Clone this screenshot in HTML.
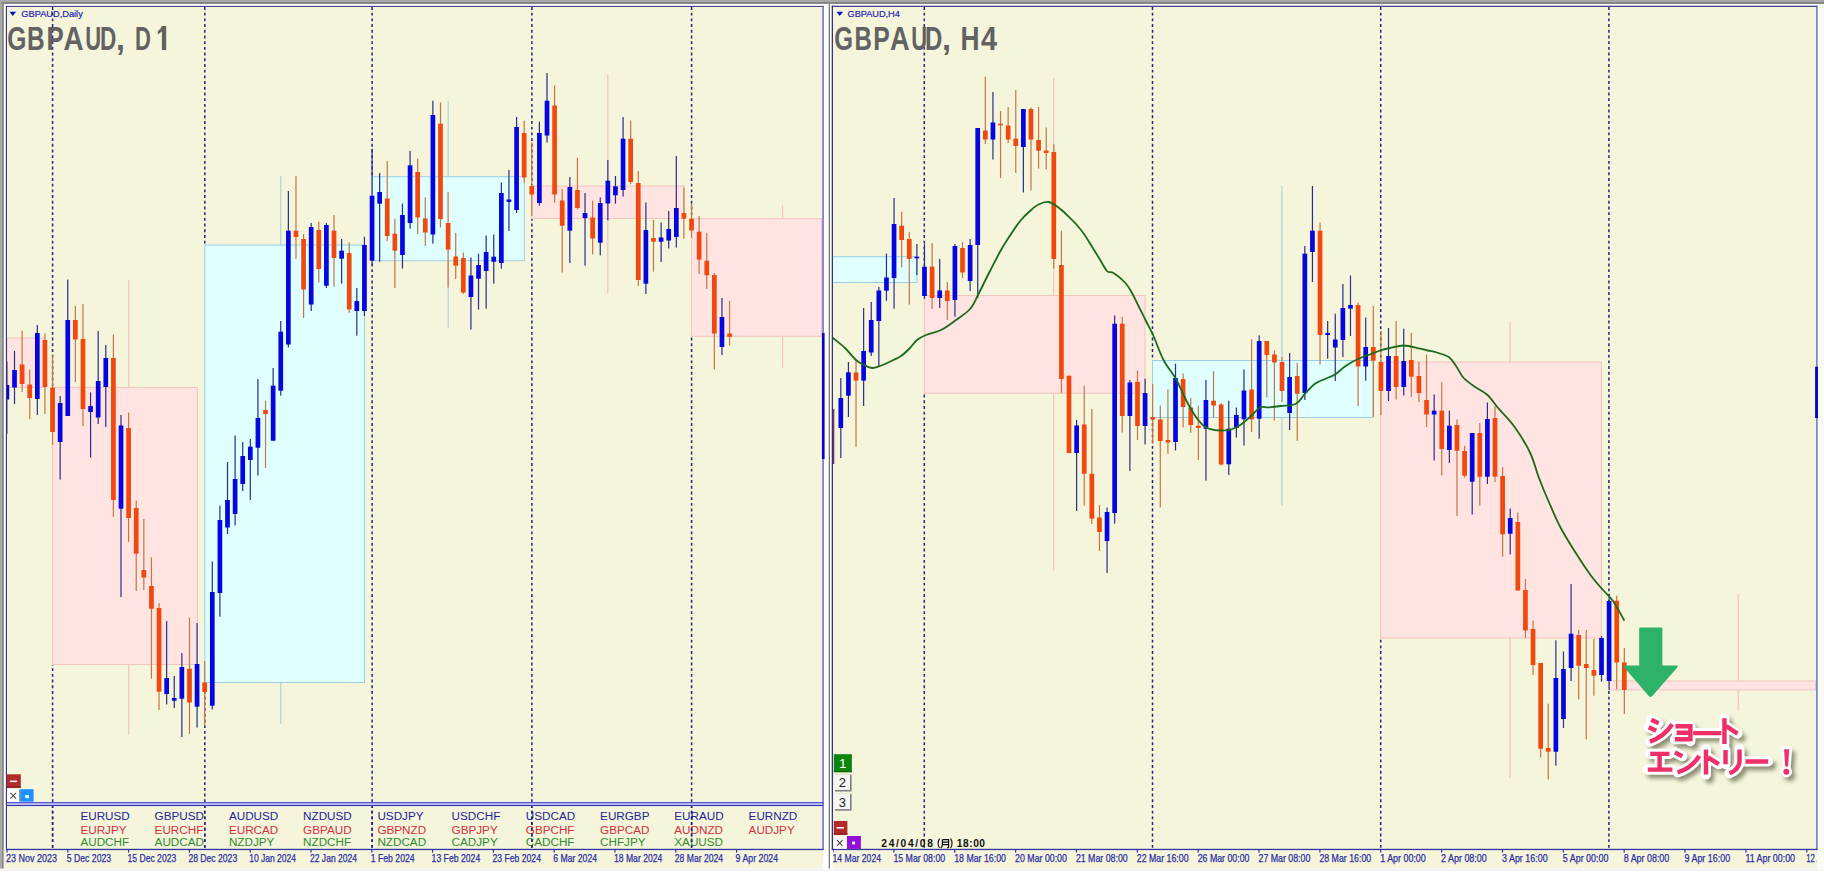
<!DOCTYPE html><html><head><meta charset="utf-8"><title>GBPAUD</title><style>html,body{margin:0;padding:0;background:#fff;}body{width:1824px;height:873px;overflow:hidden;font-family:"Liberation Sans",sans-serif;}svg{display:block;}text{font-family:"Liberation Sans",sans-serif;}.mono{font-family:"Liberation Mono",monospace;}</style></head><body>
<svg width="1824" height="873" viewBox="0 0 1824 873">
<defs><filter id="sh" x="-20%" y="-20%" width="140%" height="150%"><feGaussianBlur stdDeviation="24"/></filter><clipPath id="cl"><rect x="7" y="7" width="816" height="842"/></clipPath><clipPath id="cr"><rect x="833" y="7" width="984" height="862"/></clipPath></defs>
<rect x="0" y="0" width="1824" height="873" fill="#FBFBFF"/>
<rect x="0" y="0" width="1824" height="2" fill="#A8A8A8"/><rect x="0" y="2" width="1824" height="2" fill="#868686"/>
<rect x="0" y="0" width="1.5" height="871" fill="#A8A8A8"/><rect x="1.5" y="2" width="2.3" height="869" fill="#868686"/>
<rect x="6.5" y="6.5" width="816.5" height="862" fill="#F5F5DC"/>
<rect x="832.5" y="6.5" width="984.5" height="862" fill="#F5F5DC"/>
<rect x="828.8" y="3" width="1.5" height="868" fill="#787870"/><rect x="828.3" y="3" width="0.5" height="868" fill="#D0D0CC"/><rect x="830.3" y="3" width="0.5" height="868" fill="#D0D0CC"/>
<rect x="0" y="868.5" width="1824" height="4.5" fill="#F4F4F4"/><rect x="0" y="871" width="1824" height="2" fill="#FFFFFF"/>
<g clip-path="url(#cl)">
<line x1="52.6" x2="52.6" y1="7" y2="386.9" stroke="#26227E" stroke-width="1.5" stroke-dasharray="2.9 2.8" stroke-dashoffset="0.0"/><line x1="52.6" x2="52.6" y1="665.0" y2="848" stroke="#26227E" stroke-width="1.5" stroke-dasharray="2.9 2.8" stroke-dashoffset="2.5"/>
<line x1="204.8" x2="204.8" y1="7" y2="244.5" stroke="#26227E" stroke-width="1.5" stroke-dasharray="2.9 2.8" stroke-dashoffset="0.0"/><line x1="204.8" x2="204.8" y1="683.0" y2="848" stroke="#26227E" stroke-width="1.5" stroke-dasharray="2.9 2.8" stroke-dashoffset="3.4"/>
<line x1="372.1" x2="372.1" y1="7" y2="176.2" stroke="#26227E" stroke-width="1.5" stroke-dasharray="2.9 2.8" stroke-dashoffset="0.0"/><line x1="372.1" x2="372.1" y1="261.2" y2="848" stroke="#26227E" stroke-width="1.5" stroke-dasharray="2.9 2.8" stroke-dashoffset="3.4"/>
<line x1="531.9" x2="531.9" y1="7" y2="185.5" stroke="#26227E" stroke-width="1.5" stroke-dasharray="2.9 2.8" stroke-dashoffset="0.0"/><line x1="531.9" x2="531.9" y1="219.0" y2="848" stroke="#26227E" stroke-width="1.5" stroke-dasharray="2.9 2.8" stroke-dashoffset="1.1"/>
<line x1="691.6" x2="691.6" y1="7" y2="218.2" stroke="#26227E" stroke-width="1.5" stroke-dasharray="2.9 2.8" stroke-dashoffset="0.0"/><line x1="691.6" x2="691.6" y1="336.8" y2="848" stroke="#26227E" stroke-width="1.5" stroke-dasharray="2.9 2.8" stroke-dashoffset="4.9"/>
<rect x="7" y="338" width="38.1" height="49.4" fill="#FFE4E1" stroke="#F2C4BC" stroke-width="1"/>
<line x1="128.7" x2="128.7" y1="280" y2="735" stroke="#F2C4BC" stroke-width="1.2"/><rect x="52.6" y="387.4" width="144.7" height="277.1" fill="#FFE4E1" stroke="#F2C4BC" stroke-width="1"/>
<line x1="280.7" x2="280.7" y1="176" y2="724" stroke="#B2D4DA" stroke-width="1.2"/><rect x="204.8" y="245" width="159.7" height="437.5" fill="#E0FFFF" stroke="#9CCFE6" stroke-width="1"/>
<line x1="448.2" x2="448.2" y1="100.7" y2="328" stroke="#B2D4DA" stroke-width="1.2"/><rect x="372.1" y="176.7" width="152.2" height="84.0" fill="#E0FFFF" stroke="#9CCFE6" stroke-width="1"/>
<line x1="607.8" x2="607.8" y1="74" y2="293.7" stroke="#F2C4BC" stroke-width="1.2"/><rect x="531.9" y="186" width="152.1" height="32.5" fill="#FFE4E1" stroke="#F2C4BC" stroke-width="1"/>
<line x1="782.6" x2="782.6" y1="205" y2="367.7" stroke="#F2C4BC" stroke-width="1.2"/><rect x="691.6" y="218.7" width="129.9" height="117.6" fill="#FFE4E1" stroke="#F2C4BC" stroke-width="1"/>
<rect x="6.30" y="361.5" width="1.2" height="72.5" fill="#2C2C8C"/><rect x="4.55" y="385.0" width="4.7" height="14.5" fill="#0505E0"/><rect x="13.91" y="351.0" width="1.2" height="53.0" fill="#2C2C8C"/><rect x="12.16" y="370.0" width="4.7" height="17.5" fill="#0505E0"/><rect x="21.51" y="330.5" width="1.2" height="61.5" fill="#C47646"/><rect x="19.76" y="364.5" width="4.7" height="19.5" fill="#F0480E"/><rect x="29.12" y="369.5" width="1.2" height="49.5" fill="#C47646"/><rect x="27.37" y="384.5" width="4.7" height="13.5" fill="#F0480E"/><rect x="36.73" y="325.0" width="1.2" height="90.0" fill="#2C2C8C"/><rect x="34.98" y="333.0" width="4.7" height="66.0" fill="#0505E0"/><rect x="44.34" y="333.5" width="1.2" height="80.5" fill="#C47646"/><rect x="42.59" y="340.0" width="4.7" height="47.0" fill="#F0480E"/><rect x="51.94" y="354.5" width="1.2" height="90.5" fill="#C47646"/><rect x="50.19" y="387.5" width="4.7" height="44.5" fill="#F0480E"/><rect x="59.55" y="396.0" width="1.2" height="83.5" fill="#2C2C8C"/><rect x="57.80" y="403.0" width="4.7" height="39.0" fill="#0505E0"/><rect x="67.16" y="279.5" width="1.2" height="136.5" fill="#2C2C8C"/><rect x="65.41" y="320.0" width="4.7" height="96.0" fill="#0505E0"/><rect x="74.76" y="306.0" width="1.2" height="76.0" fill="#C47646"/><rect x="73.01" y="320.0" width="4.7" height="19.5" fill="#F0480E"/><rect x="82.37" y="304.0" width="1.2" height="122.0" fill="#C47646"/><rect x="80.62" y="339.0" width="4.7" height="70.0" fill="#F0480E"/><rect x="89.98" y="392.5" width="1.2" height="65.0" fill="#2C2C8C"/><rect x="88.23" y="406.0" width="4.7" height="6.0" fill="#0505E0"/><rect x="97.58" y="331.0" width="1.2" height="93.0" fill="#2C2C8C"/><rect x="95.83" y="381.0" width="4.7" height="36.5" fill="#0505E0"/><rect x="105.19" y="345.0" width="1.2" height="82.0" fill="#2C2C8C"/><rect x="103.44" y="358.0" width="4.7" height="29.0" fill="#0505E0"/><rect x="112.80" y="334.5" width="1.2" height="182.5" fill="#C47646"/><rect x="111.05" y="358.0" width="4.7" height="142.0" fill="#F0480E"/><rect x="120.41" y="415.0" width="1.2" height="182.0" fill="#2C2C8C"/><rect x="118.66" y="425.5" width="4.7" height="83.2" fill="#0505E0"/><rect x="128.01" y="412.5" width="1.2" height="129.2" fill="#C47646"/><rect x="126.26" y="428.0" width="4.7" height="90.0" fill="#F0480E"/><rect x="135.62" y="500.5" width="1.2" height="90.5" fill="#C47646"/><rect x="133.87" y="508.0" width="4.7" height="45.7" fill="#F0480E"/><rect x="143.23" y="519.0" width="1.2" height="71.0" fill="#C47646"/><rect x="141.48" y="570.0" width="4.7" height="7.5" fill="#F0480E"/><rect x="150.83" y="557.5" width="1.2" height="121.2" fill="#C47646"/><rect x="149.08" y="586.0" width="4.7" height="22.7" fill="#F0480E"/><rect x="158.44" y="603.0" width="1.2" height="107.0" fill="#C47646"/><rect x="156.69" y="608.0" width="4.7" height="83.7" fill="#F0480E"/><rect x="166.05" y="621.0" width="1.2" height="83.5" fill="#2C2C8C"/><rect x="164.30" y="678.0" width="4.7" height="16.0" fill="#0505E0"/><rect x="173.65" y="676.0" width="1.2" height="32.0" fill="#2C2C8C"/><rect x="171.90" y="698.0" width="4.7" height="2.7" fill="#0505E0"/><rect x="181.26" y="653.0" width="1.2" height="84.0" fill="#2C2C8C"/><rect x="179.51" y="667.0" width="4.7" height="31.7" fill="#0505E0"/><rect x="188.87" y="617.5" width="1.2" height="116.5" fill="#C47646"/><rect x="187.12" y="668.7" width="4.7" height="33.8" fill="#F0480E"/><rect x="196.48" y="623.0" width="1.2" height="104.5" fill="#2C2C8C"/><rect x="194.73" y="664.0" width="4.7" height="42.7" fill="#0505E0"/><rect x="204.08" y="661.0" width="1.2" height="65.0" fill="#C47646"/><rect x="202.33" y="682.5" width="4.7" height="9.5" fill="#F0480E"/><rect x="211.69" y="561.5" width="1.2" height="148.0" fill="#2C2C8C"/><rect x="209.94" y="592.0" width="4.7" height="113.7" fill="#0505E0"/><rect x="219.30" y="505.7" width="1.2" height="111.0" fill="#2C2C8C"/><rect x="217.55" y="520.0" width="4.7" height="73.0" fill="#0505E0"/><rect x="226.90" y="462.0" width="1.2" height="72.0" fill="#2C2C8C"/><rect x="225.15" y="500.0" width="4.7" height="27.5" fill="#0505E0"/><rect x="234.51" y="435.5" width="1.2" height="90.0" fill="#2C2C8C"/><rect x="232.76" y="479.0" width="4.7" height="35.0" fill="#0505E0"/><rect x="242.12" y="442.0" width="1.2" height="49.0" fill="#2C2C8C"/><rect x="240.37" y="456.0" width="4.7" height="28.0" fill="#0505E0"/><rect x="249.72" y="439.0" width="1.2" height="61.0" fill="#2C2C8C"/><rect x="247.97" y="446.7" width="4.7" height="13.3" fill="#0505E0"/><rect x="257.33" y="379.0" width="1.2" height="96.5" fill="#2C2C8C"/><rect x="255.58" y="418.0" width="4.7" height="29.7" fill="#0505E0"/><rect x="264.94" y="400.7" width="1.2" height="67.3" fill="#C47646"/><rect x="263.19" y="410.0" width="4.7" height="4.0" fill="#F0480E"/><rect x="272.54" y="368.0" width="1.2" height="72.7" fill="#2C2C8C"/><rect x="270.79" y="385.7" width="4.7" height="55.0" fill="#0505E0"/><rect x="280.15" y="321.0" width="1.2" height="74.7" fill="#2C2C8C"/><rect x="278.40" y="331.7" width="4.7" height="59.0" fill="#0505E0"/><rect x="287.76" y="191.0" width="1.2" height="156.5" fill="#2C2C8C"/><rect x="286.01" y="230.7" width="4.7" height="113.8" fill="#0505E0"/><rect x="295.37" y="176.0" width="1.2" height="83.0" fill="#C47646"/><rect x="293.62" y="230.7" width="4.7" height="6.3" fill="#F0480E"/><rect x="302.97" y="234.0" width="1.2" height="84.0" fill="#C47646"/><rect x="301.22" y="239.0" width="4.7" height="50.5" fill="#F0480E"/><rect x="310.58" y="223.0" width="1.2" height="88.0" fill="#2C2C8C"/><rect x="308.83" y="227.0" width="4.7" height="77.5" fill="#0505E0"/><rect x="318.19" y="221.7" width="1.2" height="60.8" fill="#C47646"/><rect x="316.44" y="230.0" width="4.7" height="39.0" fill="#F0480E"/><rect x="325.79" y="223.0" width="1.2" height="65.0" fill="#2C2C8C"/><rect x="324.04" y="225.0" width="4.7" height="60.7" fill="#0505E0"/><rect x="333.40" y="215.0" width="1.2" height="71.7" fill="#C47646"/><rect x="331.65" y="230.7" width="4.7" height="27.3" fill="#F0480E"/><rect x="341.01" y="239.0" width="1.2" height="44.7" fill="#2C2C8C"/><rect x="339.26" y="250.7" width="4.7" height="8.0" fill="#0505E0"/><rect x="348.61" y="242.5" width="1.2" height="70.5" fill="#C47646"/><rect x="346.86" y="253.0" width="4.7" height="56.3" fill="#F0480E"/><rect x="356.22" y="288.0" width="1.2" height="47.7" fill="#2C2C8C"/><rect x="354.47" y="301.0" width="4.7" height="10.0" fill="#0505E0"/><rect x="363.83" y="236.7" width="1.2" height="79.3" fill="#2C2C8C"/><rect x="362.08" y="245.0" width="4.7" height="66.0" fill="#0505E0"/><rect x="371.44" y="148.7" width="1.2" height="116.3" fill="#2C2C8C"/><rect x="369.69" y="195.7" width="4.7" height="65.0" fill="#0505E0"/><rect x="379.04" y="173.0" width="1.2" height="88.7" fill="#2C2C8C"/><rect x="377.29" y="192.0" width="4.7" height="11.7" fill="#0505E0"/><rect x="386.65" y="161.0" width="1.2" height="80.0" fill="#C47646"/><rect x="384.90" y="198.5" width="4.7" height="37.5" fill="#F0480E"/><rect x="394.26" y="218.7" width="1.2" height="69.3" fill="#C47646"/><rect x="392.51" y="233.7" width="4.7" height="17.0" fill="#F0480E"/><rect x="401.86" y="203.5" width="1.2" height="65.0" fill="#2C2C8C"/><rect x="400.11" y="215.0" width="4.7" height="40.0" fill="#0505E0"/><rect x="409.47" y="151.0" width="1.2" height="77.7" fill="#2C2C8C"/><rect x="407.72" y="165.3" width="4.7" height="57.7" fill="#0505E0"/><rect x="417.08" y="158.7" width="1.2" height="75.3" fill="#C47646"/><rect x="415.33" y="172.0" width="4.7" height="45.5" fill="#F0480E"/><rect x="424.68" y="197.5" width="1.2" height="48.5" fill="#C47646"/><rect x="422.93" y="218.5" width="4.7" height="14.0" fill="#F0480E"/><rect x="432.29" y="100.7" width="1.2" height="143.0" fill="#2C2C8C"/><rect x="430.54" y="115.0" width="4.7" height="119.5" fill="#0505E0"/><rect x="439.90" y="102.5" width="1.2" height="125.0" fill="#C47646"/><rect x="438.15" y="123.7" width="4.7" height="95.3" fill="#F0480E"/><rect x="447.51" y="192.0" width="1.2" height="95.5" fill="#C47646"/><rect x="445.76" y="223.0" width="4.7" height="26.7" fill="#F0480E"/><rect x="455.11" y="233.0" width="1.2" height="46.0" fill="#C47646"/><rect x="453.36" y="256.5" width="4.7" height="9.2" fill="#F0480E"/><rect x="462.72" y="252.5" width="1.2" height="41.5" fill="#C47646"/><rect x="460.97" y="258.0" width="4.7" height="34.5" fill="#F0480E"/><rect x="470.33" y="257.5" width="1.2" height="72.0" fill="#2C2C8C"/><rect x="468.58" y="275.5" width="4.7" height="21.5" fill="#0505E0"/><rect x="477.93" y="253.7" width="1.2" height="55.8" fill="#2C2C8C"/><rect x="476.18" y="265.0" width="4.7" height="13.7" fill="#0505E0"/><rect x="485.54" y="235.5" width="1.2" height="73.2" fill="#2C2C8C"/><rect x="483.79" y="252.0" width="4.7" height="19.0" fill="#0505E0"/><rect x="493.15" y="234.5" width="1.2" height="49.2" fill="#2C2C8C"/><rect x="491.40" y="256.7" width="4.7" height="5.0" fill="#0505E0"/><rect x="500.75" y="182.5" width="1.2" height="86.2" fill="#2C2C8C"/><rect x="499.00" y="193.0" width="4.7" height="70.0" fill="#0505E0"/><rect x="508.36" y="170.0" width="1.2" height="61.0" fill="#2C2C8C"/><rect x="506.61" y="199.5" width="4.7" height="2.5" fill="#0505E0"/><rect x="515.97" y="117.0" width="1.2" height="96.0" fill="#2C2C8C"/><rect x="514.22" y="127.0" width="4.7" height="83.0" fill="#0505E0"/><rect x="523.58" y="120.7" width="1.2" height="61.8" fill="#C47646"/><rect x="521.83" y="133.0" width="4.7" height="44.5" fill="#F0480E"/><rect x="531.18" y="142.5" width="1.2" height="73.5" fill="#C47646"/><rect x="529.43" y="186.0" width="4.7" height="8.5" fill="#F0480E"/><rect x="538.79" y="121.7" width="1.2" height="84.0" fill="#2C2C8C"/><rect x="537.04" y="133.0" width="4.7" height="70.0" fill="#0505E0"/><rect x="546.40" y="73.0" width="1.2" height="69.5" fill="#2C2C8C"/><rect x="544.65" y="100.7" width="4.7" height="34.8" fill="#0505E0"/><rect x="554.00" y="85.5" width="1.2" height="117.0" fill="#C47646"/><rect x="552.25" y="105.5" width="4.7" height="89.0" fill="#F0480E"/><rect x="561.61" y="189.0" width="1.2" height="83.5" fill="#C47646"/><rect x="559.86" y="200.5" width="4.7" height="25.2" fill="#F0480E"/><rect x="569.22" y="177.0" width="1.2" height="86.0" fill="#2C2C8C"/><rect x="567.47" y="187.0" width="4.7" height="43.7" fill="#0505E0"/><rect x="576.82" y="157.7" width="1.2" height="51.8" fill="#C47646"/><rect x="575.07" y="190.0" width="4.7" height="18.0" fill="#F0480E"/><rect x="584.43" y="193.0" width="1.2" height="72.7" fill="#2C2C8C"/><rect x="582.68" y="213.0" width="4.7" height="5.0" fill="#0505E0"/><rect x="592.04" y="200.7" width="1.2" height="53.6" fill="#C47646"/><rect x="590.29" y="217.5" width="4.7" height="21.0" fill="#F0480E"/><rect x="599.65" y="197.5" width="1.2" height="57.8" fill="#2C2C8C"/><rect x="597.90" y="203.0" width="4.7" height="39.7" fill="#0505E0"/><rect x="607.25" y="160.0" width="1.2" height="60.3" fill="#2C2C8C"/><rect x="605.50" y="180.7" width="4.7" height="22.8" fill="#0505E0"/><rect x="614.86" y="176.0" width="1.2" height="27.7" fill="#2C2C8C"/><rect x="613.11" y="186.3" width="4.7" height="9.0" fill="#0505E0"/><rect x="622.47" y="117.0" width="1.2" height="79.5" fill="#2C2C8C"/><rect x="620.72" y="138.7" width="4.7" height="51.3" fill="#0505E0"/><rect x="630.07" y="120.5" width="1.2" height="63.8" fill="#C47646"/><rect x="628.32" y="138.7" width="4.7" height="43.3" fill="#F0480E"/><rect x="637.68" y="171.0" width="1.2" height="115.0" fill="#C47646"/><rect x="635.93" y="183.0" width="4.7" height="97.0" fill="#F0480E"/><rect x="645.29" y="202.5" width="1.2" height="91.5" fill="#2C2C8C"/><rect x="643.54" y="230.0" width="4.7" height="53.7" fill="#0505E0"/><rect x="652.89" y="220.0" width="1.2" height="51.7" fill="#C47646"/><rect x="651.14" y="238.0" width="4.7" height="3.7" fill="#F0480E"/><rect x="660.50" y="222.5" width="1.2" height="39.5" fill="#2C2C8C"/><rect x="658.75" y="237.5" width="4.7" height="4.2" fill="#0505E0"/><rect x="668.11" y="211.0" width="1.2" height="37.5" fill="#2C2C8C"/><rect x="666.36" y="229.0" width="4.7" height="11.5" fill="#0505E0"/><rect x="675.72" y="156.0" width="1.2" height="91.5" fill="#2C2C8C"/><rect x="673.97" y="208.0" width="4.7" height="29.0" fill="#0505E0"/><rect x="683.32" y="187.5" width="1.2" height="51.2" fill="#C47646"/><rect x="681.57" y="213.0" width="4.7" height="5.7" fill="#F0480E"/><rect x="690.93" y="204.0" width="1.2" height="34.0" fill="#C47646"/><rect x="689.18" y="218.7" width="4.7" height="11.8" fill="#F0480E"/><rect x="698.54" y="216.0" width="1.2" height="58.0" fill="#C47646"/><rect x="696.79" y="231.7" width="4.7" height="27.9" fill="#F0480E"/><rect x="706.14" y="233.0" width="1.2" height="56.0" fill="#C47646"/><rect x="704.39" y="260.7" width="4.7" height="14.5" fill="#F0480E"/><rect x="713.75" y="273.0" width="1.2" height="96.4" fill="#C47646"/><rect x="712.00" y="275.0" width="4.7" height="58.5" fill="#F0480E"/><rect x="721.36" y="298.0" width="1.2" height="57.0" fill="#2C2C8C"/><rect x="719.61" y="317.0" width="4.7" height="30.0" fill="#0505E0"/><rect x="728.96" y="301.0" width="1.2" height="44.5" fill="#C47646"/><rect x="727.21" y="333.5" width="4.7" height="3.3" fill="#F0480E"/>
</g>
<rect x="6" y="802" width="817.5" height="1.6" fill="#5555DD"/><rect x="6" y="803.6" width="817.5" height="1.2" fill="#D5D5FA"/><rect x="6" y="804.8" width="817.5" height="1.3" fill="#3838B8"/>
<rect x="5.7" y="5.7" width="818" height="1.2" fill="#34347E"/>
<rect x="5.7" y="5.7" width="1.3" height="844" fill="#34347E"/>
<rect x="822.4" y="5.7" width="1.3" height="844" fill="#5252C8"/>
<rect x="5.7" y="848.8" width="818" height="1.3" fill="#3434A0"/>
<rect x="4" y="4" width="822" height="1.6" fill="#FFFFFF"/><rect x="4" y="4" width="1.6" height="846" fill="#FFFFFF"/><rect x="3.8" y="850" width="3" height="18.5" fill="#F5F5DC"/><rect x="824" y="4" width="3.2" height="866" fill="#FFFFFF"/>
<rect x="821.9" y="333" width="2.7" height="126" fill="#0606C4"/>
<rect x="6.4" y="849" width="1.2" height="3.6" fill="#3434A0"/>
<text x="6.0" y="862" font-size="10.3" stroke="#2C2CA8" stroke-width="0.25" fill="#2C2CA8" textLength="51" lengthAdjust="spacingAndGlyphs">23 Nov 2023</text>
<rect x="67.2" y="849" width="1.2" height="3.6" fill="#3434A0"/>
<text x="66.8" y="862" font-size="10.3" stroke="#2C2CA8" stroke-width="0.25" fill="#2C2CA8" textLength="44.3" lengthAdjust="spacingAndGlyphs">5 Dec 2023</text>
<rect x="128.0" y="849" width="1.2" height="3.6" fill="#3434A0"/>
<text x="127.6" y="862" font-size="10.3" stroke="#2C2CA8" stroke-width="0.25" fill="#2C2CA8" textLength="48.6" lengthAdjust="spacingAndGlyphs">15 Dec 2023</text>
<rect x="188.8" y="849" width="1.2" height="3.6" fill="#3434A0"/>
<text x="188.4" y="862" font-size="10.3" stroke="#2C2CA8" stroke-width="0.25" fill="#2C2CA8" textLength="48.8" lengthAdjust="spacingAndGlyphs">28 Dec 2023</text>
<rect x="249.6" y="849" width="1.2" height="3.6" fill="#3434A0"/>
<text x="249.2" y="862" font-size="10.3" stroke="#2C2CA8" stroke-width="0.25" fill="#2C2CA8" textLength="46.8" lengthAdjust="spacingAndGlyphs">10 Jan 2024</text>
<rect x="310.4" y="849" width="1.2" height="3.6" fill="#3434A0"/>
<text x="310.0" y="862" font-size="10.3" stroke="#2C2CA8" stroke-width="0.25" fill="#2C2CA8" textLength="47" lengthAdjust="spacingAndGlyphs">22 Jan 2024</text>
<rect x="371.2" y="849" width="1.2" height="3.6" fill="#3434A0"/>
<text x="370.8" y="862" font-size="10.3" stroke="#2C2CA8" stroke-width="0.25" fill="#2C2CA8" textLength="43.8" lengthAdjust="spacingAndGlyphs">1 Feb 2024</text>
<rect x="432.0" y="849" width="1.2" height="3.6" fill="#3434A0"/>
<text x="431.6" y="862" font-size="10.3" stroke="#2C2CA8" stroke-width="0.25" fill="#2C2CA8" textLength="48.6" lengthAdjust="spacingAndGlyphs">13 Feb 2024</text>
<rect x="492.8" y="849" width="1.2" height="3.6" fill="#3434A0"/>
<text x="492.4" y="862" font-size="10.3" stroke="#2C2CA8" stroke-width="0.25" fill="#2C2CA8" textLength="48.6" lengthAdjust="spacingAndGlyphs">23 Feb 2024</text>
<rect x="553.6" y="849" width="1.2" height="3.6" fill="#3434A0"/>
<text x="553.2" y="862" font-size="10.3" stroke="#2C2CA8" stroke-width="0.25" fill="#2C2CA8" textLength="43.9" lengthAdjust="spacingAndGlyphs">6 Mar 2024</text>
<rect x="614.4" y="849" width="1.2" height="3.6" fill="#3434A0"/>
<text x="614.0" y="862" font-size="10.3" stroke="#2C2CA8" stroke-width="0.25" fill="#2C2CA8" textLength="48.3" lengthAdjust="spacingAndGlyphs">18 Mar 2024</text>
<rect x="675.2" y="849" width="1.2" height="3.6" fill="#3434A0"/>
<text x="674.8" y="862" font-size="10.3" stroke="#2C2CA8" stroke-width="0.25" fill="#2C2CA8" textLength="48.3" lengthAdjust="spacingAndGlyphs">28 Mar 2024</text>
<rect x="736.0" y="849" width="1.2" height="3.6" fill="#3434A0"/>
<text x="735.6" y="862" font-size="10.3" stroke="#2C2CA8" stroke-width="0.25" fill="#2C2CA8" textLength="42.5" lengthAdjust="spacingAndGlyphs">9 Apr 2024</text>
<text x="80.4" y="820.4" font-size="11.7" fill="#23239A">EURUSD</text>
<text x="80.4" y="834.2" font-size="11.7" fill="#D2323C">EURJPY</text>
<text x="80.4" y="846.1" font-size="11.7" fill="#2E8B2E">AUDCHF</text>
<text x="154.6" y="820.4" font-size="11.7" fill="#23239A">GBPUSD</text>
<text x="154.6" y="834.2" font-size="11.7" fill="#D2323C">EURCHF</text>
<text x="154.6" y="846.1" font-size="11.7" fill="#2E8B2E">AUDCAD</text>
<text x="228.9" y="820.4" font-size="11.7" fill="#23239A">AUDUSD</text>
<text x="228.9" y="834.2" font-size="11.7" fill="#D2323C">EURCAD</text>
<text x="228.9" y="846.1" font-size="11.7" fill="#2E8B2E">NZDJPY</text>
<text x="303.1" y="820.4" font-size="11.7" fill="#23239A">NZDUSD</text>
<text x="303.1" y="834.2" font-size="11.7" fill="#D2323C">GBPAUD</text>
<text x="303.1" y="846.1" font-size="11.7" fill="#2E8B2E">NZDCHF</text>
<text x="377.4" y="820.4" font-size="11.7" fill="#23239A">USDJPY</text>
<text x="377.4" y="834.2" font-size="11.7" fill="#D2323C">GBPNZD</text>
<text x="377.4" y="846.1" font-size="11.7" fill="#2E8B2E">NZDCAD</text>
<text x="451.6" y="820.4" font-size="11.7" fill="#23239A">USDCHF</text>
<text x="451.6" y="834.2" font-size="11.7" fill="#D2323C">GBPJPY</text>
<text x="451.6" y="846.1" font-size="11.7" fill="#2E8B2E">CADJPY</text>
<text x="525.8" y="820.4" font-size="11.7" fill="#23239A">USDCAD</text>
<text x="525.8" y="834.2" font-size="11.7" fill="#D2323C">GBPCHF</text>
<text x="525.8" y="846.1" font-size="11.7" fill="#2E8B2E">CADCHF</text>
<text x="600.1" y="820.4" font-size="11.7" fill="#23239A">EURGBP</text>
<text x="600.1" y="834.2" font-size="11.7" fill="#D2323C">GBPCAD</text>
<text x="600.1" y="846.1" font-size="11.7" fill="#2E8B2E">CHFJPY</text>
<text x="674.3" y="820.4" font-size="11.7" fill="#23239A">EURAUD</text>
<text x="674.3" y="834.2" font-size="11.7" fill="#D2323C">AUDNZD</text>
<text x="674.3" y="846.1" font-size="11.7" fill="#2E8B2E">XAUUSD</text>
<text x="748.6" y="820.4" font-size="11.7" fill="#23239A">EURNZD</text>
<text x="748.6" y="834.2" font-size="11.7" fill="#D2323C">AUDJPY</text>
<line x1="52.6" x2="52.6" y1="807" y2="848" stroke="#26227E" stroke-width="1.5" stroke-dasharray="2.9 2.8" stroke-dashoffset="2.0"/>
<line x1="204.8" x2="204.8" y1="807" y2="848" stroke="#26227E" stroke-width="1.5" stroke-dasharray="2.9 2.8" stroke-dashoffset="2.0"/>
<line x1="372.1" x2="372.1" y1="807" y2="848" stroke="#26227E" stroke-width="1.5" stroke-dasharray="2.9 2.8" stroke-dashoffset="2.0"/>
<line x1="531.9" x2="531.9" y1="807" y2="848" stroke="#26227E" stroke-width="1.5" stroke-dasharray="2.9 2.8" stroke-dashoffset="2.0"/>
<line x1="691.6" x2="691.6" y1="807" y2="848" stroke="#26227E" stroke-width="1.5" stroke-dasharray="2.9 2.8" stroke-dashoffset="2.0"/>
<path d="M9.5 11.8 L16 11.8 L12.75 16 Z" fill="#0A0AC0"/>
<text x="21.3" y="17" font-size="9.2" fill="#2222B8" stroke="#2222B8" stroke-width="0.2" textLength="61.5" lengthAdjust="spacingAndGlyphs">GBPAUD,Daily</text>
<g fill="#626262" font-weight="bold" font-size="34"><text transform="translate(7.33 50) scale(0.723 1)">G</text><text transform="translate(26.98 50) scale(0.718 1)">B</text><text transform="translate(46.48 50) scale(0.763 1)">P</text><text transform="translate(63.57 50) scale(0.817 1)">A</text><text transform="translate(85.22 50) scale(0.647 1)">U</text><text transform="translate(100.09 50) scale(0.663 1)">D</text><text transform="translate(116.01 50) scale(0.940 1)">,</text><text transform="translate(134.88 50) scale(0.647 1)">D</text><path d="M161.9 26.1 L166.2 26.1 L166.2 50 L161.9 50 L161.9 31.6 L157.8 34.4 L157.8 30.9 Q160.8 29.5 161.9 26.1 Z"/></g>
<rect x="6.9" y="774.3" width="13.9" height="13.5" fill="#B22A2A"/><rect x="6.9" y="786.3" width="13.9" height="1.5" fill="#8E1E1E"/><rect x="9.9" y="780.6" width="7.2" height="1.5" fill="#FFFFFF"/>
<rect x="7" y="789.2" width="12.4" height="12.3" fill="#FFFFFF"/><path d="M10.3 792.8 L16.2 798.6 M16.2 792.8 L10.3 798.6" stroke="#505050" stroke-width="1.1" fill="none"/><rect x="19.3" y="789.5" width="1.3" height="12" fill="#4A6A8A"/>
<rect x="20.6" y="789.2" width="13" height="12.5" fill="#1E90FF"/><rect x="25.3" y="795" width="3.6" height="3.2" fill="#E0FFFF"/>
<g clip-path="url(#cr)">
<line x1="924.3" x2="924.3" y1="7" y2="295.0" stroke="#26227E" stroke-width="1.5" stroke-dasharray="2.9 2.8" stroke-dashoffset="0.0"/><line x1="924.3" x2="924.3" y1="393.7" y2="848" stroke="#26227E" stroke-width="1.5" stroke-dasharray="2.9 2.8" stroke-dashoffset="4.8"/>
<line x1="1152.5" x2="1152.5" y1="7" y2="360.0" stroke="#26227E" stroke-width="1.5" stroke-dasharray="2.9 2.8" stroke-dashoffset="0.0"/><line x1="1152.5" x2="1152.5" y1="418.0" y2="848" stroke="#26227E" stroke-width="1.5" stroke-dasharray="2.9 2.8" stroke-dashoffset="0.6"/>
<line x1="1380.7" x2="1380.7" y1="7" y2="361.5" stroke="#26227E" stroke-width="1.5" stroke-dasharray="2.9 2.8" stroke-dashoffset="0.0"/><line x1="1380.7" x2="1380.7" y1="638.5" y2="848" stroke="#26227E" stroke-width="1.5" stroke-dasharray="2.9 2.8" stroke-dashoffset="4.5"/>
<line x1="1608.9" x2="1608.9" y1="7" y2="680.5" stroke="#26227E" stroke-width="1.5" stroke-dasharray="2.9 2.8" stroke-dashoffset="0.0"/><line x1="1608.9" x2="1608.9" y1="690.5" y2="848" stroke="#26227E" stroke-width="1.5" stroke-dasharray="2.9 2.8" stroke-dashoffset="5.2"/>
<rect x="832" y="256.7" width="84.9" height="25.8" fill="#E0FFFF" stroke="#9CCFE6" stroke-width="1"/>
<line x1="1053.7" x2="1053.7" y1="78" y2="571" stroke="#F2C4BC" stroke-width="1.2"/><rect x="924.3" y="295.5" width="220.7" height="97.7" fill="#FFE4E1" stroke="#F2C4BC" stroke-width="1"/>
<line x1="1281.9" x2="1281.9" y1="186" y2="505.7" stroke="#B2D4DA" stroke-width="1.2"/><rect x="1152.5" y="360.5" width="220.6" height="57.0" fill="#E0FFFF" stroke="#9CCFE6" stroke-width="1"/>
<line x1="1510" x2="1510" y1="321.7" y2="778" stroke="#F2C4BC" stroke-width="1.2"/><rect x="1380.7" y="362" width="220.7" height="276.0" fill="#FFE4E1" stroke="#F2C4BC" stroke-width="1"/>
<line x1="1738.2" x2="1738.2" y1="593.7" y2="711" stroke="#F2C4BC" stroke-width="1.2"/><rect x="1608.9" y="681" width="206.6" height="9.0" fill="#FFE4E1" stroke="#F2C4BC" stroke-width="1"/>
<rect x="832.7" y="409.0" width="1.6" height="55.0" fill="#7A2E70"/><rect x="840.21" y="378.0" width="1.2" height="80.0" fill="#2C2C8C"/><rect x="838.46" y="398.0" width="4.7" height="30.0" fill="#0505E0"/><rect x="847.81" y="362.0" width="1.2" height="55.0" fill="#2C2C8C"/><rect x="846.06" y="372.3" width="4.7" height="23.4" fill="#0505E0"/><rect x="855.42" y="360.0" width="1.2" height="86.7" fill="#C47646"/><rect x="853.67" y="372.5" width="4.7" height="8.1" fill="#F0480E"/><rect x="863.03" y="308.0" width="1.2" height="98.0" fill="#2C2C8C"/><rect x="861.28" y="351.0" width="4.7" height="29.6" fill="#0505E0"/><rect x="870.63" y="302.0" width="1.2" height="54.0" fill="#2C2C8C"/><rect x="868.88" y="320.0" width="4.7" height="32.5" fill="#0505E0"/><rect x="878.24" y="287.0" width="1.2" height="79.0" fill="#2C2C8C"/><rect x="876.49" y="290.5" width="4.7" height="30.5" fill="#0505E0"/><rect x="885.85" y="253.5" width="1.2" height="47.2" fill="#2C2C8C"/><rect x="884.10" y="277.5" width="4.7" height="13.2" fill="#0505E0"/><rect x="893.46" y="198.0" width="1.2" height="110.7" fill="#2C2C8C"/><rect x="891.71" y="224.0" width="4.7" height="54.0" fill="#0505E0"/><rect x="901.06" y="211.7" width="1.2" height="55.8" fill="#C47646"/><rect x="899.31" y="225.7" width="4.7" height="14.3" fill="#F0480E"/><rect x="908.67" y="232.0" width="1.2" height="72.5" fill="#C47646"/><rect x="906.92" y="239.0" width="4.7" height="20.0" fill="#F0480E"/><rect x="916.28" y="244.0" width="1.2" height="31.0" fill="#2C2C8C"/><rect x="914.53" y="256.7" width="4.7" height="1.6" fill="#0505E0"/><rect x="923.88" y="244.0" width="1.2" height="55.0" fill="#2C2C8C"/><rect x="922.13" y="266.7" width="4.7" height="29.3" fill="#0505E0"/><rect x="931.49" y="243.0" width="1.2" height="66.0" fill="#C47646"/><rect x="929.74" y="266.7" width="4.7" height="31.3" fill="#F0480E"/><rect x="939.10" y="259.0" width="1.2" height="49.0" fill="#2C2C8C"/><rect x="937.35" y="290.5" width="4.7" height="7.5" fill="#0505E0"/><rect x="946.71" y="282.0" width="1.2" height="38.0" fill="#C47646"/><rect x="944.96" y="290.5" width="4.7" height="10.5" fill="#F0480E"/><rect x="954.31" y="244.0" width="1.2" height="72.7" fill="#2C2C8C"/><rect x="952.56" y="246.0" width="4.7" height="54.0" fill="#0505E0"/><rect x="961.92" y="242.0" width="1.2" height="36.0" fill="#C47646"/><rect x="960.17" y="248.0" width="4.7" height="24.5" fill="#F0480E"/><rect x="969.53" y="239.0" width="1.2" height="52.0" fill="#2C2C8C"/><rect x="967.78" y="245.0" width="4.7" height="36.0" fill="#0505E0"/><rect x="977.13" y="128.0" width="1.2" height="170.0" fill="#2C2C8C"/><rect x="975.38" y="128.0" width="4.7" height="117.0" fill="#0505E0"/><rect x="984.74" y="76.7" width="1.2" height="67.3" fill="#C47646"/><rect x="982.99" y="130.5" width="4.7" height="9.0" fill="#F0480E"/><rect x="992.35" y="92.0" width="1.2" height="67.5" fill="#2C2C8C"/><rect x="990.60" y="122.5" width="4.7" height="17.0" fill="#0505E0"/><rect x="999.95" y="111.0" width="1.2" height="67.0" fill="#C47646"/><rect x="998.20" y="123.7" width="4.7" height="1.6" fill="#F0480E"/><rect x="1007.56" y="107.0" width="1.2" height="36.0" fill="#C47646"/><rect x="1005.81" y="125.5" width="4.7" height="14.0" fill="#F0480E"/><rect x="1015.17" y="90.0" width="1.2" height="83.0" fill="#C47646"/><rect x="1013.42" y="138.7" width="4.7" height="7.3" fill="#F0480E"/><rect x="1022.77" y="109.0" width="1.2" height="83.5" fill="#2C2C8C"/><rect x="1021.02" y="109.0" width="4.7" height="38.0" fill="#0505E0"/><rect x="1030.38" y="107.5" width="1.2" height="83.0" fill="#C47646"/><rect x="1028.63" y="109.0" width="4.7" height="30.5" fill="#F0480E"/><rect x="1037.99" y="107.0" width="1.2" height="61.7" fill="#C47646"/><rect x="1036.24" y="140.0" width="4.7" height="10.7" fill="#F0480E"/><rect x="1045.60" y="127.5" width="1.2" height="42.0" fill="#C47646"/><rect x="1043.85" y="150.5" width="4.7" height="2.5" fill="#F0480E"/><rect x="1053.20" y="144.5" width="1.2" height="124.0" fill="#C47646"/><rect x="1051.45" y="152.0" width="4.7" height="107.0" fill="#F0480E"/><rect x="1060.81" y="230.7" width="1.2" height="162.3" fill="#C47646"/><rect x="1059.06" y="265.0" width="4.7" height="114.0" fill="#F0480E"/><rect x="1068.42" y="375.7" width="1.2" height="77.3" fill="#C47646"/><rect x="1066.67" y="375.7" width="4.7" height="77.3" fill="#F0480E"/><rect x="1076.02" y="420.0" width="1.2" height="91.0" fill="#2C2C8C"/><rect x="1074.27" y="425.5" width="4.7" height="27.5" fill="#0505E0"/><rect x="1083.63" y="385.7" width="1.2" height="120.0" fill="#C47646"/><rect x="1081.88" y="424.5" width="4.7" height="49.2" fill="#F0480E"/><rect x="1091.24" y="409.0" width="1.2" height="115.0" fill="#C47646"/><rect x="1089.49" y="473.7" width="4.7" height="45.0" fill="#F0480E"/><rect x="1098.85" y="505.0" width="1.2" height="46.0" fill="#C47646"/><rect x="1097.10" y="517.5" width="4.7" height="14.5" fill="#F0480E"/><rect x="1106.45" y="507.5" width="1.2" height="65.5" fill="#2C2C8C"/><rect x="1104.70" y="512.0" width="4.7" height="29.0" fill="#0505E0"/><rect x="1114.06" y="315.5" width="1.2" height="208.2" fill="#2C2C8C"/><rect x="1112.31" y="323.7" width="4.7" height="189.3" fill="#0505E0"/><rect x="1121.67" y="317.0" width="1.2" height="115.5" fill="#C47646"/><rect x="1119.92" y="323.7" width="4.7" height="92.3" fill="#F0480E"/><rect x="1129.27" y="380.0" width="1.2" height="91.0" fill="#2C2C8C"/><rect x="1127.52" y="382.5" width="4.7" height="33.5" fill="#0505E0"/><rect x="1136.88" y="370.5" width="1.2" height="69.5" fill="#C47646"/><rect x="1135.13" y="382.0" width="4.7" height="44.0" fill="#F0480E"/><rect x="1144.49" y="378.7" width="1.2" height="65.8" fill="#2C2C8C"/><rect x="1142.74" y="393.0" width="4.7" height="33.0" fill="#0505E0"/><rect x="1152.09" y="384.0" width="1.2" height="59.7" fill="#C47646"/><rect x="1150.34" y="417.0" width="4.7" height="2.5" fill="#F0480E"/><rect x="1159.70" y="405.5" width="1.2" height="102.0" fill="#C47646"/><rect x="1157.95" y="419.5" width="4.7" height="21.5" fill="#F0480E"/><rect x="1167.31" y="389.3" width="1.2" height="64.4" fill="#C47646"/><rect x="1165.56" y="440.0" width="4.7" height="2.5" fill="#F0480E"/><rect x="1174.92" y="363.7" width="1.2" height="86.8" fill="#2C2C8C"/><rect x="1173.17" y="378.0" width="4.7" height="64.0" fill="#0505E0"/><rect x="1182.52" y="373.5" width="1.2" height="54.0" fill="#C47646"/><rect x="1180.77" y="379.0" width="4.7" height="28.0" fill="#F0480E"/><rect x="1190.13" y="398.0" width="1.2" height="35.0" fill="#C47646"/><rect x="1188.38" y="407.5" width="4.7" height="17.5" fill="#F0480E"/><rect x="1197.74" y="405.7" width="1.2" height="54.3" fill="#C47646"/><rect x="1195.99" y="425.7" width="4.7" height="2.3" fill="#F0480E"/><rect x="1205.34" y="380.0" width="1.2" height="100.7" fill="#2C2C8C"/><rect x="1203.59" y="400.0" width="4.7" height="28.7" fill="#0505E0"/><rect x="1212.95" y="371.0" width="1.2" height="46.5" fill="#C47646"/><rect x="1211.20" y="400.7" width="4.7" height="4.8" fill="#F0480E"/><rect x="1220.56" y="403.0" width="1.2" height="62.5" fill="#C47646"/><rect x="1218.81" y="404.5" width="4.7" height="60.0" fill="#F0480E"/><rect x="1228.16" y="400.7" width="1.2" height="74.3" fill="#2C2C8C"/><rect x="1226.41" y="428.7" width="4.7" height="35.6" fill="#0505E0"/><rect x="1235.77" y="407.5" width="1.2" height="30.0" fill="#2C2C8C"/><rect x="1234.02" y="415.0" width="4.7" height="13.0" fill="#0505E0"/><rect x="1243.38" y="369.5" width="1.2" height="76.0" fill="#2C2C8C"/><rect x="1241.63" y="390.5" width="4.7" height="28.8" fill="#0505E0"/><rect x="1250.99" y="339.3" width="1.2" height="92.7" fill="#C47646"/><rect x="1249.24" y="389.5" width="4.7" height="29.8" fill="#F0480E"/><rect x="1258.59" y="335.3" width="1.2" height="103.4" fill="#2C2C8C"/><rect x="1256.84" y="341.0" width="4.7" height="77.7" fill="#0505E0"/><rect x="1266.20" y="341.0" width="1.2" height="56.5" fill="#C47646"/><rect x="1264.45" y="341.0" width="4.7" height="14.0" fill="#F0480E"/><rect x="1273.81" y="350.5" width="1.2" height="70.0" fill="#C47646"/><rect x="1272.06" y="354.5" width="4.7" height="8.0" fill="#F0480E"/><rect x="1281.41" y="357.0" width="1.2" height="45.0" fill="#C47646"/><rect x="1279.66" y="362.0" width="4.7" height="29.0" fill="#F0480E"/><rect x="1289.02" y="353.0" width="1.2" height="77.0" fill="#2C2C8C"/><rect x="1287.27" y="377.0" width="4.7" height="36.0" fill="#0505E0"/><rect x="1296.63" y="363.0" width="1.2" height="78.0" fill="#C47646"/><rect x="1294.88" y="376.0" width="4.7" height="17.7" fill="#F0480E"/><rect x="1304.23" y="246.0" width="1.2" height="154.0" fill="#2C2C8C"/><rect x="1302.48" y="253.7" width="4.7" height="139.3" fill="#0505E0"/><rect x="1311.84" y="186.0" width="1.2" height="96.0" fill="#2C2C8C"/><rect x="1310.09" y="230.7" width="4.7" height="21.3" fill="#0505E0"/><rect x="1319.45" y="222.5" width="1.2" height="142.0" fill="#C47646"/><rect x="1317.70" y="230.7" width="4.7" height="104.3" fill="#F0480E"/><rect x="1327.06" y="321.0" width="1.2" height="37.7" fill="#2C2C8C"/><rect x="1325.31" y="333.0" width="4.7" height="2.0" fill="#0505E0"/><rect x="1334.66" y="313.7" width="1.2" height="67.3" fill="#2C2C8C"/><rect x="1332.91" y="339.5" width="4.7" height="8.0" fill="#0505E0"/><rect x="1342.27" y="284.0" width="1.2" height="73.0" fill="#2C2C8C"/><rect x="1340.52" y="308.0" width="4.7" height="32.0" fill="#0505E0"/><rect x="1349.88" y="275.5" width="1.2" height="60.5" fill="#2C2C8C"/><rect x="1348.13" y="305.0" width="4.7" height="3.7" fill="#0505E0"/><rect x="1357.48" y="302.5" width="1.2" height="103.5" fill="#C47646"/><rect x="1355.73" y="305.0" width="4.7" height="61.5" fill="#F0480E"/><rect x="1365.09" y="317.5" width="1.2" height="63.2" fill="#2C2C8C"/><rect x="1363.34" y="347.0" width="4.7" height="19.5" fill="#0505E0"/><rect x="1372.70" y="306.0" width="1.2" height="111.0" fill="#C47646"/><rect x="1370.95" y="347.0" width="4.7" height="13.7" fill="#F0480E"/><rect x="1380.30" y="330.7" width="1.2" height="84.3" fill="#C47646"/><rect x="1378.55" y="362.0" width="4.7" height="29.0" fill="#F0480E"/><rect x="1387.91" y="328.0" width="1.2" height="73.0" fill="#2C2C8C"/><rect x="1386.16" y="356.0" width="4.7" height="35.0" fill="#0505E0"/><rect x="1395.52" y="321.0" width="1.2" height="78.5" fill="#C47646"/><rect x="1393.77" y="356.0" width="4.7" height="31.0" fill="#F0480E"/><rect x="1403.12" y="328.7" width="1.2" height="66.8" fill="#2C2C8C"/><rect x="1401.38" y="361.0" width="4.7" height="26.0" fill="#0505E0"/><rect x="1410.73" y="333.0" width="1.2" height="64.0" fill="#C47646"/><rect x="1408.98" y="360.0" width="4.7" height="16.7" fill="#F0480E"/><rect x="1418.34" y="362.0" width="1.2" height="40.0" fill="#C47646"/><rect x="1416.59" y="376.0" width="4.7" height="17.0" fill="#F0480E"/><rect x="1425.95" y="354.5" width="1.2" height="72.5" fill="#C47646"/><rect x="1424.20" y="400.0" width="4.7" height="14.5" fill="#F0480E"/><rect x="1433.55" y="394.5" width="1.2" height="66.0" fill="#2C2C8C"/><rect x="1431.80" y="410.7" width="4.7" height="3.8" fill="#0505E0"/><rect x="1441.16" y="382.3" width="1.2" height="93.2" fill="#C47646"/><rect x="1439.41" y="410.7" width="4.7" height="38.3" fill="#F0480E"/><rect x="1448.77" y="410.7" width="1.2" height="52.3" fill="#2C2C8C"/><rect x="1447.02" y="425.7" width="4.7" height="24.3" fill="#0505E0"/><rect x="1456.37" y="419.5" width="1.2" height="96.5" fill="#C47646"/><rect x="1454.62" y="425.0" width="4.7" height="25.7" fill="#F0480E"/><rect x="1463.98" y="445.7" width="1.2" height="31.8" fill="#C47646"/><rect x="1462.23" y="451.0" width="4.7" height="24.7" fill="#F0480E"/><rect x="1471.59" y="433.0" width="1.2" height="81.5" fill="#2C2C8C"/><rect x="1469.84" y="433.0" width="4.7" height="48.7" fill="#0505E0"/><rect x="1479.20" y="423.0" width="1.2" height="82.7" fill="#C47646"/><rect x="1477.45" y="433.0" width="4.7" height="43.7" fill="#F0480E"/><rect x="1486.80" y="402.5" width="1.2" height="81.5" fill="#2C2C8C"/><rect x="1485.05" y="419.0" width="4.7" height="57.7" fill="#0505E0"/><rect x="1494.41" y="406.0" width="1.2" height="76.0" fill="#C47646"/><rect x="1492.66" y="418.0" width="4.7" height="58.7" fill="#F0480E"/><rect x="1502.02" y="467.0" width="1.2" height="89.7" fill="#C47646"/><rect x="1500.27" y="476.0" width="4.7" height="58.3" fill="#F0480E"/><rect x="1509.62" y="508.5" width="1.2" height="46.0" fill="#2C2C8C"/><rect x="1507.87" y="518.0" width="4.7" height="15.7" fill="#0505E0"/><rect x="1517.23" y="512.5" width="1.2" height="78.5" fill="#C47646"/><rect x="1515.48" y="522.0" width="4.7" height="68.5" fill="#F0480E"/><rect x="1524.84" y="579.0" width="1.2" height="59.0" fill="#C47646"/><rect x="1523.09" y="590.0" width="4.7" height="40.5" fill="#F0480E"/><rect x="1532.44" y="620.7" width="1.2" height="54.3" fill="#C47646"/><rect x="1530.69" y="629.0" width="4.7" height="36.0" fill="#F0480E"/><rect x="1540.05" y="663.0" width="1.2" height="94.5" fill="#C47646"/><rect x="1538.30" y="663.0" width="4.7" height="85.7" fill="#F0480E"/><rect x="1547.66" y="703.7" width="1.2" height="75.8" fill="#C47646"/><rect x="1545.91" y="748.0" width="4.7" height="3.7" fill="#F0480E"/><rect x="1555.27" y="640.3" width="1.2" height="125.4" fill="#2C2C8C"/><rect x="1553.52" y="678.0" width="4.7" height="73.7" fill="#0505E0"/><rect x="1562.87" y="651.5" width="1.2" height="76.5" fill="#2C2C8C"/><rect x="1561.12" y="669.0" width="4.7" height="50.0" fill="#0505E0"/><rect x="1570.48" y="584.0" width="1.2" height="97.0" fill="#2C2C8C"/><rect x="1568.73" y="633.7" width="4.7" height="34.3" fill="#0505E0"/><rect x="1578.09" y="630.0" width="1.2" height="69.5" fill="#C47646"/><rect x="1576.34" y="635.0" width="4.7" height="30.7" fill="#F0480E"/><rect x="1585.69" y="630.0" width="1.2" height="109.5" fill="#C47646"/><rect x="1583.94" y="664.0" width="4.7" height="4.0" fill="#F0480E"/><rect x="1593.30" y="638.7" width="1.2" height="57.0" fill="#C47646"/><rect x="1591.55" y="670.0" width="4.7" height="5.7" fill="#F0480E"/><rect x="1600.91" y="636.0" width="1.2" height="45.7" fill="#2C2C8C"/><rect x="1599.16" y="638.0" width="4.7" height="37.0" fill="#0505E0"/><rect x="1608.51" y="593.7" width="1.2" height="96.3" fill="#2C2C8C"/><rect x="1606.76" y="601.0" width="4.7" height="80.0" fill="#0505E0"/><rect x="1616.12" y="595.7" width="1.2" height="93.8" fill="#C47646"/><rect x="1614.37" y="600.7" width="4.7" height="61.8" fill="#F0480E"/><rect x="1623.73" y="648.0" width="1.2" height="66.0" fill="#C47646"/><rect x="1621.98" y="662.5" width="4.7" height="27.5" fill="#F0480E"/>
<path d="M833.0 338.0 C835.0 339.7 841.2 344.3 845.0 348.0 C848.8 351.7 852.8 357.2 856.0 360.0 C859.2 362.8 861.3 363.7 864.0 365.0 C866.7 366.3 869.3 367.8 872.0 368.0 C874.7 368.2 876.4 367.3 880.0 366.0 C883.6 364.7 890.0 361.7 893.5 360.0 C897.0 358.3 898.2 358.0 901.0 356.0 C903.8 354.0 907.3 350.7 910.0 348.0 C912.7 345.3 914.3 342.2 917.0 340.0 C919.7 337.8 922.0 336.7 926.0 335.0 C930.0 333.3 936.0 332.5 941.0 330.0 C946.0 327.5 951.2 323.5 956.0 320.0 C960.8 316.5 966.2 313.3 970.0 309.0 C973.8 304.7 975.2 300.3 978.5 294.0 C981.8 287.7 986.2 278.3 990.0 271.0 C993.8 263.7 997.5 256.2 1001.0 250.0 C1004.5 243.8 1007.7 239.0 1011.0 234.0 C1014.3 229.0 1017.8 223.8 1021.0 220.0 C1024.2 216.2 1027.1 213.6 1030.0 211.0 C1032.9 208.4 1035.4 206.0 1038.5 204.5 C1041.6 203.0 1045.2 201.5 1048.5 202.0 C1051.8 202.5 1055.4 205.3 1058.5 207.5 C1061.6 209.7 1064.1 212.2 1067.0 215.0 C1069.9 217.8 1073.2 220.8 1076.0 224.0 C1078.8 227.2 1081.5 230.5 1084.0 234.0 C1086.5 237.5 1088.5 241.0 1091.0 245.0 C1093.5 249.0 1096.3 253.7 1099.0 258.0 C1101.7 262.3 1104.6 268.5 1107.0 271.0 C1109.4 273.5 1110.5 271.1 1113.5 273.0 C1116.5 274.9 1121.9 279.2 1125.0 282.5 C1128.1 285.8 1129.8 289.1 1132.0 293.0 C1134.2 296.9 1136.2 301.3 1138.5 306.0 C1140.8 310.7 1143.5 316.0 1146.0 321.0 C1148.5 326.0 1150.6 329.5 1153.5 336.0 C1156.4 342.5 1159.8 352.8 1163.5 360.0 C1167.2 367.2 1172.2 372.3 1176.0 379.0 C1179.8 385.7 1182.7 393.7 1186.0 400.0 C1189.3 406.3 1192.7 412.4 1196.0 417.0 C1199.3 421.6 1202.0 425.2 1206.0 427.5 C1210.0 429.8 1215.8 430.2 1220.0 430.5 C1224.2 430.8 1227.5 430.5 1231.0 429.5 C1234.5 428.5 1237.7 426.8 1241.0 424.5 C1244.3 422.2 1247.8 418.8 1251.0 416.0 C1254.2 413.2 1257.1 408.9 1260.0 407.5 C1262.9 406.1 1265.0 407.6 1268.5 407.3 C1272.0 407.1 1276.4 406.6 1281.0 406.0 C1285.6 405.4 1292.0 405.8 1296.0 403.7 C1300.0 401.6 1301.8 397.0 1305.0 393.7 C1308.2 390.4 1311.7 386.1 1315.0 383.7 C1318.3 381.2 1321.7 380.5 1325.0 379.0 C1328.3 377.5 1332.0 376.3 1335.0 374.5 C1338.0 372.7 1340.2 370.1 1343.0 368.0 C1345.8 365.9 1348.3 364.0 1352.0 362.0 C1355.7 360.0 1362.0 357.2 1365.0 356.0 C1368.0 354.8 1367.5 355.4 1370.0 354.5 C1372.5 353.6 1376.7 351.6 1380.0 350.5 C1383.3 349.4 1386.0 348.8 1390.0 348.0 C1394.0 347.2 1398.7 345.4 1403.7 345.5 C1408.7 345.6 1416.0 347.9 1420.0 348.7 C1424.0 349.5 1425.0 349.9 1427.5 350.5 C1430.0 351.1 1431.5 350.9 1435.0 352.0 C1438.5 353.1 1445.2 354.7 1448.7 357.0 C1452.2 359.3 1453.5 362.5 1456.0 366.0 C1458.5 369.5 1460.4 374.4 1463.7 378.0 C1467.0 381.6 1472.0 384.7 1476.0 387.5 C1480.0 390.3 1483.7 391.5 1487.5 395.0 C1491.3 398.5 1494.1 403.3 1498.7 408.7 C1503.3 414.1 1509.8 420.2 1515.0 427.5 C1520.2 434.8 1526.0 444.1 1530.0 452.5 C1534.0 460.9 1536.0 470.1 1539.0 478.0 C1542.0 485.9 1544.4 491.8 1548.0 500.0 C1551.6 508.2 1555.9 518.8 1560.5 527.5 C1565.1 536.2 1570.5 544.6 1575.5 552.5 C1580.5 560.4 1585.9 568.8 1590.5 575.0 C1595.1 581.2 1599.2 585.7 1603.0 590.0 C1606.8 594.3 1609.5 596.0 1613.0 601.0 C1616.5 606.0 1622.2 616.8 1624.0 620.0" fill="none" stroke="#1C6B1C" stroke-width="1.8" stroke-linejoin="round" stroke-linecap="round"/>
</g>
<rect x="830" y="4" width="1990" height="1.6" fill="#FFFFFF"/><rect x="830" y="4" width="1.7" height="866" fill="#FFFFFF"/>
<rect x="831.7" y="5.7" width="986" height="1.2" fill="#34347E"/>
<rect x="831.7" y="5.7" width="1.3" height="844" fill="#34347E"/>
<rect x="1816.3" y="5.7" width="1.4" height="844" fill="#4A5AC8"/>
<rect x="831.7" y="848.8" width="986" height="1.3" fill="#3434A0"/>
<rect x="1817.8" y="4" width="6.2" height="866" fill="#FBFBF6"/>
<rect x="1815.1" y="366.7" width="2.9" height="51.3" fill="#0606C4"/>
<g clip-path="url(#cr)">
<rect x="832.4" y="849" width="1.2" height="3.6" fill="#3434A0"/>
<text x="832.5" y="862" font-size="10.3" stroke="#2C2CA8" stroke-width="0.25" fill="#2C2CA8" textLength="48.5" lengthAdjust="spacingAndGlyphs">14 Mar 2024</text>
<rect x="893.3" y="849" width="1.2" height="3.6" fill="#3434A0"/>
<text x="893.4" y="862" font-size="10.3" stroke="#2C2CA8" stroke-width="0.25" fill="#2C2CA8" textLength="51.8" lengthAdjust="spacingAndGlyphs">15 Mar 08:00</text>
<rect x="954.1" y="849" width="1.2" height="3.6" fill="#3434A0"/>
<text x="954.2" y="862" font-size="10.3" stroke="#2C2CA8" stroke-width="0.25" fill="#2C2CA8" textLength="51.8" lengthAdjust="spacingAndGlyphs">18 Mar 16:00</text>
<rect x="1015.0" y="849" width="1.2" height="3.6" fill="#3434A0"/>
<text x="1015.1" y="862" font-size="10.3" stroke="#2C2CA8" stroke-width="0.25" fill="#2C2CA8" textLength="51.8" lengthAdjust="spacingAndGlyphs">20 Mar 00:00</text>
<rect x="1075.8" y="849" width="1.2" height="3.6" fill="#3434A0"/>
<text x="1075.9" y="862" font-size="10.3" stroke="#2C2CA8" stroke-width="0.25" fill="#2C2CA8" textLength="51.8" lengthAdjust="spacingAndGlyphs">21 Mar 08:00</text>
<rect x="1136.7" y="849" width="1.2" height="3.6" fill="#3434A0"/>
<text x="1136.8" y="862" font-size="10.3" stroke="#2C2CA8" stroke-width="0.25" fill="#2C2CA8" textLength="51.8" lengthAdjust="spacingAndGlyphs">22 Mar 16:00</text>
<rect x="1197.6" y="849" width="1.2" height="3.6" fill="#3434A0"/>
<text x="1197.7" y="862" font-size="10.3" stroke="#2C2CA8" stroke-width="0.25" fill="#2C2CA8" textLength="51.8" lengthAdjust="spacingAndGlyphs">26 Mar 00:00</text>
<rect x="1258.4" y="849" width="1.2" height="3.6" fill="#3434A0"/>
<text x="1258.5" y="862" font-size="10.3" stroke="#2C2CA8" stroke-width="0.25" fill="#2C2CA8" textLength="51.8" lengthAdjust="spacingAndGlyphs">27 Mar 08:00</text>
<rect x="1319.3" y="849" width="1.2" height="3.6" fill="#3434A0"/>
<text x="1319.4" y="862" font-size="10.3" stroke="#2C2CA8" stroke-width="0.25" fill="#2C2CA8" textLength="51.8" lengthAdjust="spacingAndGlyphs">28 Mar 16:00</text>
<rect x="1380.1" y="849" width="1.2" height="3.6" fill="#3434A0"/>
<text x="1380.2" y="862" font-size="10.3" stroke="#2C2CA8" stroke-width="0.25" fill="#2C2CA8" textLength="45.6" lengthAdjust="spacingAndGlyphs">1 Apr 00:00</text>
<rect x="1441.0" y="849" width="1.2" height="3.6" fill="#3434A0"/>
<text x="1441.1" y="862" font-size="10.3" stroke="#2C2CA8" stroke-width="0.25" fill="#2C2CA8" textLength="45.6" lengthAdjust="spacingAndGlyphs">2 Apr 08:00</text>
<rect x="1501.9" y="849" width="1.2" height="3.6" fill="#3434A0"/>
<text x="1502.0" y="862" font-size="10.3" stroke="#2C2CA8" stroke-width="0.25" fill="#2C2CA8" textLength="45.6" lengthAdjust="spacingAndGlyphs">3 Apr 16:00</text>
<rect x="1562.7" y="849" width="1.2" height="3.6" fill="#3434A0"/>
<text x="1562.8" y="862" font-size="10.3" stroke="#2C2CA8" stroke-width="0.25" fill="#2C2CA8" textLength="45.6" lengthAdjust="spacingAndGlyphs">5 Apr 00:00</text>
<rect x="1623.6" y="849" width="1.2" height="3.6" fill="#3434A0"/>
<text x="1623.7" y="862" font-size="10.3" stroke="#2C2CA8" stroke-width="0.25" fill="#2C2CA8" textLength="45.6" lengthAdjust="spacingAndGlyphs">8 Apr 08:00</text>
<rect x="1684.4" y="849" width="1.2" height="3.6" fill="#3434A0"/>
<text x="1684.5" y="862" font-size="10.3" stroke="#2C2CA8" stroke-width="0.25" fill="#2C2CA8" textLength="45.6" lengthAdjust="spacingAndGlyphs">9 Apr 16:00</text>
<rect x="1745.3" y="849" width="1.2" height="3.6" fill="#3434A0"/>
<text x="1745.4" y="862" font-size="10.3" stroke="#2C2CA8" stroke-width="0.25" fill="#2C2CA8" textLength="49.6" lengthAdjust="spacingAndGlyphs">11 Apr 00:00</text>
<rect x="1806.2" y="849" width="1.2" height="3.6" fill="#3434A0"/>
<text x="1806.3" y="862" font-size="10.3" stroke="#2C2CA8" stroke-width="0.25" fill="#2C2CA8" textLength="15.5" lengthAdjust="spacingAndGlyphs">12 A</text>
</g>
<path d="M836.5 11.8 L843 11.8 L839.75 16 Z" fill="#0A0AC0"/>
<text x="847.5" y="17" font-size="9.2" fill="#2222B8" stroke="#2222B8" stroke-width="0.2" textLength="52.3" lengthAdjust="spacingAndGlyphs">GBPAUD,H4</text>
<g fill="#626262" font-weight="bold" font-size="34"><text transform="translate(834.24 50) scale(0.710 1)">G</text><text transform="translate(854.50 50) scale(0.706 1)">B</text><text transform="translate(873.20 50) scale(0.730 1)">P</text><text transform="translate(889.98 50) scale(0.800 1)">A</text><text transform="translate(911.22 50) scale(0.647 1)">U</text><text transform="translate(925.10 50) scale(0.706 1)">D</text><text transform="translate(941.97 50) scale(0.959 1)">,</text><text transform="translate(960.61 50) scale(0.775 1)">H</text><text transform="translate(981.00 50) scale(0.850 1)">4</text></g>
<rect x="833.8" y="754.2" width="18.1" height="18" fill="#0E850E"/><rect x="833.8" y="770.6" width="18.1" height="1.6" fill="#0A6A0A"/><text x="842.8" y="768.3" font-size="13.5" fill="#FFFFFF" text-anchor="middle">1</text>
<rect x="835" y="774.7" width="16.6" height="16.8" fill="#808080"/><rect x="835" y="774.7" width="15" height="15.2" fill="#F6F6F6"/><text x="842.4" y="787.4000000000001" font-size="13" fill="#202020" text-anchor="middle">2</text>
<rect x="835" y="793.9" width="16.6" height="16.8" fill="#808080"/><rect x="835" y="793.9" width="15" height="15.2" fill="#F6F6F6"/><text x="842.4" y="806.6" font-size="13" fill="#202020" text-anchor="middle">3</text>
<rect x="833.8" y="821" width="13.6" height="13.8" fill="#B22A2A"/><rect x="833.8" y="833.3" width="13.6" height="1.5" fill="#8E1E1E"/><rect x="836.6" y="827" width="7.2" height="1.6" fill="#FFFFFF"/>
<rect x="834.2" y="837.2" width="11.8" height="11.4" fill="#FFFFFF"/><path d="M837 840 L842.6 845.8 M842.6 840 L837 845.8" stroke="#505050" stroke-width="1.1" fill="none"/>
<rect x="847" y="836" width="13.9" height="12.9" fill="#9410D8"/><rect x="852.2" y="841.6" width="2.8" height="2.8" fill="#FFFFFF"/>
<text x="881.3" y="846.9" font-size="10.2" font-weight="bold" fill="#101010" textLength="51.6" lengthAdjust="spacing">24/04/08</text>
<text x="956.8" y="846.9" font-size="10.2" font-weight="bold" fill="#101010" textLength="28.2" lengthAdjust="spacing">18:00</text>
<g stroke="#101010" fill="none" stroke-width="1.1"><path d="M939.6 838.6 Q936.6 843.2 939.6 848"/><path d="M950.6 838.6 Q953.6 843.2 950.6 848"/><path d="M942.4 839.6 L948.6 839.6 L948.6 847 Q948.6 847.9 947.2 847.7 M942.4 839.6 L942.4 844.5 Q942.3 846.8 940.8 847.9 M942.4 842.1 L948.6 842.1 M942.4 844.6 L948.6 844.6" stroke-width="1.25"/></g>
<path d="M1640 627.5 Q1639.2 627.5 1639.2 628.5 L1639.2 665.6 L1624.5 665.6 Q1623 665.8 1624 667.2 L1649 696.2 Q1650.5 697.6 1652 696.2 L1677.5 667.2 Q1678.5 665.8 1677 665.6 L1662.4 665.6 L1662.4 628.5 Q1662.4 627.5 1661.4 627.5 Z" fill="#2DB369"/>
<g transform="translate(1630 705) scale(0.09868)">
<g transform="translate(36 42)" filter="url(#sh)" opacity="0.6"><path d="M215 150 L290 186 M190 225 L265 260 M202 372 Q345 322 428 196 M460 215 L612 215 L612 368 M472 281 L612 281 M455 348 L612 348 M640 285 L925 285 M957 135 L957 395 M975 215 L1090 290 M205 495 L400 495 M300 495 L300 655 M180 655 L430 655 M455 480 L530 520 M482 682 Q625 640 702 515 M770 450 L770 705 M790 530 L900 600 M968 455 L968 600 M1110 450 L1110 570 Q1105 655 1008 692 M1170 572 L1400 572 " fill="none" stroke="#4A4A30" stroke-width="92" stroke-linecap="round" stroke-linejoin="round"/><g fill="#4A4A30" stroke="#4A4A30" stroke-width="50" stroke-linejoin="round"><path d="M1561 448 L1614 448 L1601 624 L1573 624 Z"/><circle cx="1584" cy="676" r="30"/></g></g>
<path d="M215 150 L290 186 M190 225 L265 260 M202 372 Q345 322 428 196 M460 215 L612 215 L612 368 M472 281 L612 281 M455 348 L612 348 M640 285 L925 285 M957 135 L957 395 M975 215 L1090 290 M205 495 L400 495 M300 495 L300 655 M180 655 L430 655 M455 480 L530 520 M482 682 Q625 640 702 515 M770 450 L770 705 M790 530 L900 600 M968 455 L968 600 M1110 450 L1110 570 Q1105 655 1008 692 M1170 572 L1400 572 " fill="none" stroke="#FFFFFF" stroke-width="102" stroke-linecap="round" stroke-linejoin="round"/><g fill="#FFFFFF" stroke="#FFFFFF" stroke-width="58" stroke-linejoin="round"><path d="M1561 448 L1614 448 L1601 624 L1573 624 Z"/><circle cx="1584" cy="676" r="30"/></g>
<path d="M215 150 L290 186 M190 225 L265 260 M202 372 Q345 322 428 196 M460 215 L612 215 L612 368 M472 281 L612 281 M455 348 L612 348 M640 285 L925 285 M957 135 L957 395 M975 215 L1090 290 M205 495 L400 495 M300 495 L300 655 M180 655 L430 655 M455 480 L530 520 M482 682 Q625 640 702 515 M770 450 L770 705 M790 530 L900 600 M968 455 L968 600 M1110 450 L1110 570 Q1105 655 1008 692 M1170 572 L1400 572 " fill="none" stroke="#EE2F68" stroke-width="45" stroke-linecap="butt" stroke-linejoin="miter"/><g fill="#EE2F68"><path d="M1561 448 L1614 448 L1601 624 L1573 624 Z"/><circle cx="1584" cy="676" r="30"/></g>
</g>
</svg></body></html>
